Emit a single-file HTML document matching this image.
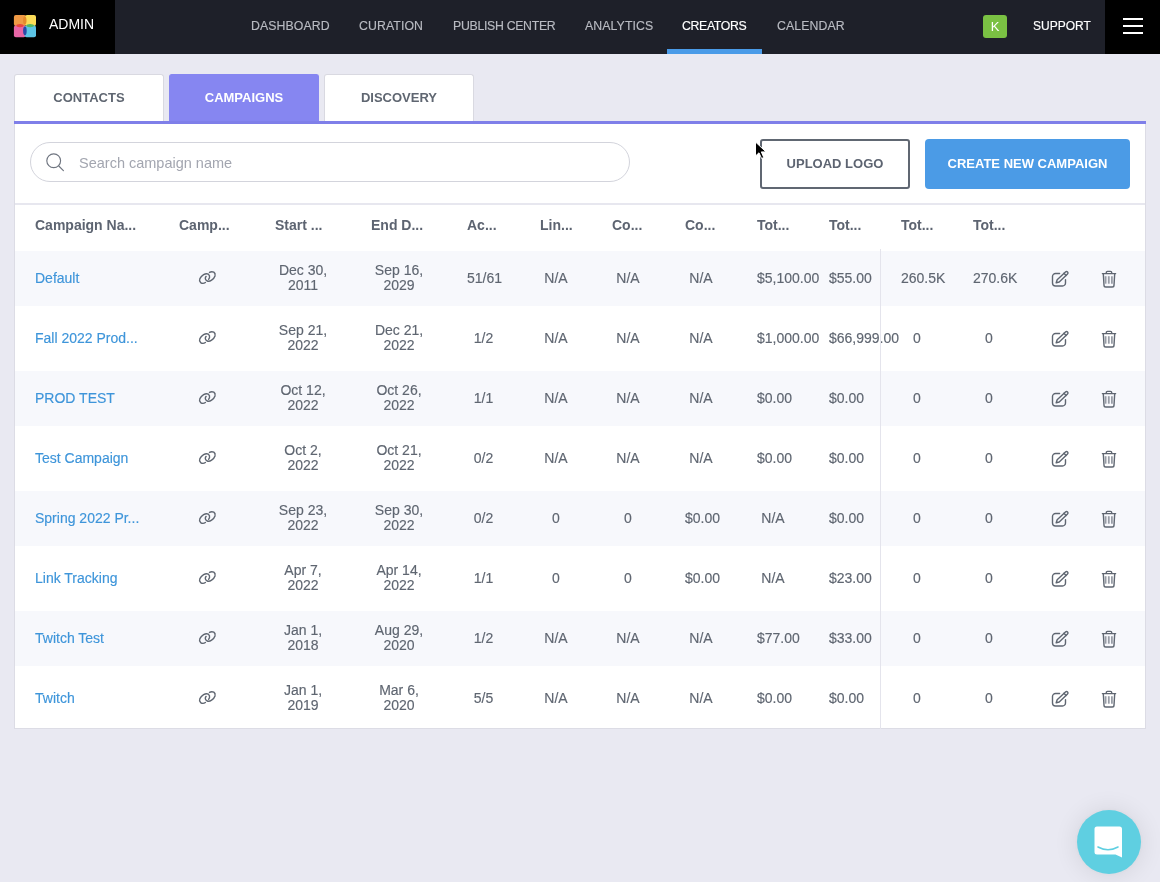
<!DOCTYPE html>
<html><head><meta charset="utf-8">
<style>
*{box-sizing:border-box;margin:0;padding:0}
html,body{width:1160px;height:882px;overflow:hidden}
html{will-change:transform}
.cv,.cd,.name,.nav{-webkit-text-stroke:0.15px currentColor}
body{-webkit-font-smoothing:antialiased;background:#e9e9f2;font-family:"Liberation Sans",sans-serif;position:relative;color:#5f6671}
.abs{position:absolute}
#hdr{position:absolute;left:0;top:0;width:1160px;height:54px;background:#1e2029}
#admin{position:absolute;left:0;top:0;width:115px;height:54px;background:#000}
.nav{position:absolute;top:19px;font-size:12.3px;line-height:14px;color:#b9bbc2;letter-spacing:0.1px;white-space:nowrap}
.tab{position:absolute;top:74px;width:150px;height:47px;background:#fff;border:1px solid #d9d9e1;border-bottom:none;border-radius:3px 3px 0 0;font-weight:bold;font-size:13px;color:#5f6671;text-align:center;line-height:46px}
#panel{position:absolute;left:14px;top:124px;width:1132px;height:605px;background:#fff;border:1px solid #dcdce5;border-top:none}
.th{position:absolute;top:217px;font-weight:bold;font-size:14px;line-height:16px;color:#5d6471;white-space:nowrap}
.band{position:absolute;left:15px;width:1130px;height:55px;background:#f7f8fc}
.name{position:absolute;left:35px;font-size:14px;line-height:20px;color:#3e95da;white-space:nowrap}
.cv{position:absolute;font-size:14px;line-height:20px;text-align:center;white-space:nowrap;color:#5f6671}
.cd{position:absolute;font-size:14px;line-height:15px;text-align:center;white-space:nowrap;color:#5f6671}
.ic{position:absolute}
</style></head><body>
<div id="hdr"></div>
<div id="admin"></div>
<svg class="abs" style="left:13px;top:15px" width="24" height="23" viewBox="0 0 24 23">
 <rect x="0.9" y="0" width="12.2" height="11" rx="2" fill="#f09a45"/>
 <rect x="12" y="0" width="11" height="11" rx="2" fill="#fbdc58"/>
 <rect x="0.9" y="10.6" width="11.8" height="11.6" rx="2" fill="#e866a6"/>
 <rect x="11.6" y="10.6" width="11.4" height="11.6" rx="2" fill="#5cc4e6"/>
 <ellipse cx="7" cy="10.6" rx="3.7" ry="1.7" fill="#e9463e"/>
 <ellipse cx="17.2" cy="10.6" rx="3.8" ry="1.7" fill="#53b864"/>
 <ellipse cx="11.9" cy="15.8" rx="1.8" ry="4.4" fill="#2b4aa8"/>
 <ellipse cx="11.8" cy="5.4" rx="1.7" ry="4" fill="#e58a2c"/>
</svg>
<div class="abs" style="left:49px;top:16px;font-size:14px;line-height:16px;color:#fff">ADMIN</div>
<div class="nav" style="left:251px">DASHBOARD</div>
<div class="nav" style="left:359px">CURATION</div>
<div class="nav" style="left:453px;letter-spacing:-0.3px">PUBLISH CENTER</div>
<div class="nav" style="left:585px">ANALYTICS</div>
<div class="nav" style="left:682px;color:#fff;letter-spacing:-0.35px">CREATORS</div>
<div class="nav" style="left:777px">CALENDAR</div>
<div class="abs" style="left:667px;top:49px;width:95px;height:5px;background:#4a9be8"></div>
<div class="abs" style="left:983px;top:15px;width:24px;height:23px;background:#7ac143;border-radius:3px;color:#fff;font-size:13px;line-height:23px;text-align:center">K</div>
<div class="nav" style="left:1033px;color:#fff;font-size:12px;letter-spacing:0">SUPPORT</div>
<div class="abs" style="left:1105px;top:0;width:55px;height:54px;background:#000"></div>
<div class="abs" style="left:1123px;top:18px;width:20px;height:2px;background:#fff"></div>
<div class="abs" style="left:1123px;top:25px;width:20px;height:2px;background:#fff"></div>
<div class="abs" style="left:1123px;top:32px;width:20px;height:2px;background:#fff"></div>

<div class="tab" style="left:14px">CONTACTS</div>
<div class="tab" style="left:169px;background:#8686f1;border-color:#8686f1;color:#fff">CAMPAIGNS</div>
<div class="tab" style="left:324px">DISCOVERY</div>
<div id="panel"></div>
<div class="abs" style="left:14px;top:121px;width:1132px;height:3px;background:#7f7fe9"></div>

<div class="abs" style="left:30px;top:142px;width:600px;height:40px;border:1px solid #d3d4dc;border-radius:20px"></div>
<svg class="abs" style="left:45px;top:153px" width="20" height="20" viewBox="0 0 20 20"><g fill="none" stroke="#6f7580" stroke-width="1.15" stroke-linecap="round"><circle cx="8.7" cy="7.7" r="6.9"/><path d="M13.8 13 L18.4 17.6"/></g></svg>
<div class="abs" style="left:79px;top:154px;font-size:14.5px;line-height:18px;color:#a3a6b0;white-space:nowrap">Search campaign name</div>

<div class="abs" style="left:760px;top:139px;width:150px;height:50px;border:2px solid #606772;border-radius:3px;font-weight:bold;font-size:13px;line-height:46px;text-align:center;color:#5d6471">UPLOAD LOGO</div>
<div class="abs" style="left:925px;top:139px;width:205px;height:50px;background:#4b9be6;border-radius:4px;font-weight:bold;font-size:13px;line-height:50px;text-align:center;color:#fff">CREATE NEW CAMPAIGN</div>
<svg class="abs" style="left:754px;top:141px" width="14" height="20" viewBox="0 0 14 20"><path d="M1.5 1 L1.5 15 L5 11.8 L7.6 17.5 L9.8 16.5 L7.3 10.9 L12 10.9 Z" fill="#000" stroke="#fff" stroke-width="1"/></svg>

<div class="abs" style="left:15px;top:203px;width:1130px;height:2px;background:#e7e7ef"></div>
<div class="th" style="left:35px">Campaign Na...</div>
<div class="th" style="left:179px">Camp...</div>
<div class="th" style="left:275px">Start ...</div>
<div class="th" style="left:371px">End D...</div>
<div class="th" style="left:467px">Ac...</div>
<div class="th" style="left:540px">Lin...</div>
<div class="th" style="left:612px">Co...</div>
<div class="th" style="left:685px">Co...</div>
<div class="th" style="left:757px">Tot...</div>
<div class="th" style="left:829px">Tot...</div>
<div class="th" style="left:901px">Tot...</div>
<div class="th" style="left:973px">Tot...</div>
<div class="band" style="top:251px"></div>
<div class="name" style="top:268px">Default</div>
<svg class="ic" style="left:197px;top:268px" width="21" height="20" viewBox="0 0 21 20"><g fill="none" stroke="#5f6671" stroke-width="1.4" stroke-linecap="round"><path d="M8.4 14.5 Q6 16.2 3.6 14.6 Q1.9 13 2.9 10.6 Q4 8.2 6.6 6.6 Q9.4 5 11.4 6.2 Q13 7.4 12.5 9.6 Q12.2 10.6 11.6 11.3"/><path d="M12.5 4.4 Q14.6 3.2 16.8 4.2 Q18.6 5.4 18 8 Q17.2 10.4 14.6 12.2 Q12.2 13.8 10.2 13.0 Q8.2 12.2 8.3 10.2 Q8.5 8.9 9.1 8.4"/></g></svg>
<div class="cd" style="left:275px;width:56px;top:262.5px">Dec 30,<br>2011</div>
<div class="cd" style="left:371px;width:56px;top:262.5px">Sep 16,<br>2029</div>
<div class="cv" style="left:467px;width:33px;top:268px">51/61</div>
<div class="cv" style="left:540px;width:32px;top:268px">N/A</div>
<div class="cv" style="left:612px;width:32px;top:268px">N/A</div>
<div class="cv" style="left:685px;width:32px;top:268px">N/A</div>
<div class="cv" style="left:757px;width:32px;top:268px">$5,100.00</div>
<div class="cv" style="left:829px;width:33px;top:268px">$55.00</div>
<div class="cv" style="left:901px;width:32px;top:268px">260.5K</div>
<div class="cv" style="left:973px;width:32px;top:268px">270.6K</div>
<svg class="ic" style="left:1050px;top:269px" width="20" height="20" viewBox="0 0 20 20"><g fill="none" stroke="#5f6671" stroke-width="1.4" stroke-linejoin="round" stroke-linecap="round"><path d="M9.6 4.5 H5.5 A3 3 0 0 0 2.5 7.5 V14 A3 3 0 0 0 5.5 17 H12.5 A3 3 0 0 0 15.5 14 V10.8"/><path d="M6.2 13.8 L7.17 10.81 L15.47 2.91 A1.5 1.5 0 0 1 17.53 5.09 L9.23 12.99 Z"/><path d="M13.97 4.31 L16.03 6.49"/></g></svg>
<svg class="ic" style="left:1099px;top:269px" width="20" height="20" viewBox="0 0 20 20"><g fill="none" stroke="#5f6671" stroke-width="1.4" stroke-linecap="round" stroke-linejoin="round"><path d="M3.4 4.6 H16.6"/><path d="M7.3 4.4 V3.6 A1.2 1.2 0 0 1 8.5 2.4 H11.5 A1.2 1.2 0 0 1 12.7 3.6 V4.4"/><path d="M4.3 4.8 L5 16.2 A1.8 1.8 0 0 0 6.8 18 H13.2 A1.8 1.8 0 0 0 15 16.2 L15.7 4.8"/></g><g stroke="#989da6" stroke-width="1.8"><path d="M6.6 7.2 V14.7"/><path d="M9.8 7.2 V14.7"/><path d="M12.9 7.2 V14.7"/></g></svg>
<div class="name" style="top:328px">Fall 2022 Prod...</div>
<svg class="ic" style="left:197px;top:328px" width="21" height="20" viewBox="0 0 21 20"><g fill="none" stroke="#5f6671" stroke-width="1.4" stroke-linecap="round"><path d="M8.4 14.5 Q6 16.2 3.6 14.6 Q1.9 13 2.9 10.6 Q4 8.2 6.6 6.6 Q9.4 5 11.4 6.2 Q13 7.4 12.5 9.6 Q12.2 10.6 11.6 11.3"/><path d="M12.5 4.4 Q14.6 3.2 16.8 4.2 Q18.6 5.4 18 8 Q17.2 10.4 14.6 12.2 Q12.2 13.8 10.2 13.0 Q8.2 12.2 8.3 10.2 Q8.5 8.9 9.1 8.4"/></g></svg>
<div class="cd" style="left:275px;width:56px;top:322.5px">Sep 21,<br>2022</div>
<div class="cd" style="left:371px;width:56px;top:322.5px">Dec 21,<br>2022</div>
<div class="cv" style="left:467px;width:33px;top:328px">1/2</div>
<div class="cv" style="left:540px;width:32px;top:328px">N/A</div>
<div class="cv" style="left:612px;width:32px;top:328px">N/A</div>
<div class="cv" style="left:685px;width:32px;top:328px">N/A</div>
<div class="cv" style="left:757px;width:32px;top:328px">$1,000.00</div>
<div class="cv" style="left:829px;width:33px;top:328px">$66,999.00</div>
<div class="cv" style="left:901px;width:32px;top:328px">0</div>
<div class="cv" style="left:973px;width:32px;top:328px">0</div>
<svg class="ic" style="left:1050px;top:329px" width="20" height="20" viewBox="0 0 20 20"><g fill="none" stroke="#5f6671" stroke-width="1.4" stroke-linejoin="round" stroke-linecap="round"><path d="M9.6 4.5 H5.5 A3 3 0 0 0 2.5 7.5 V14 A3 3 0 0 0 5.5 17 H12.5 A3 3 0 0 0 15.5 14 V10.8"/><path d="M6.2 13.8 L7.17 10.81 L15.47 2.91 A1.5 1.5 0 0 1 17.53 5.09 L9.23 12.99 Z"/><path d="M13.97 4.31 L16.03 6.49"/></g></svg>
<svg class="ic" style="left:1099px;top:329px" width="20" height="20" viewBox="0 0 20 20"><g fill="none" stroke="#5f6671" stroke-width="1.4" stroke-linecap="round" stroke-linejoin="round"><path d="M3.4 4.6 H16.6"/><path d="M7.3 4.4 V3.6 A1.2 1.2 0 0 1 8.5 2.4 H11.5 A1.2 1.2 0 0 1 12.7 3.6 V4.4"/><path d="M4.3 4.8 L5 16.2 A1.8 1.8 0 0 0 6.8 18 H13.2 A1.8 1.8 0 0 0 15 16.2 L15.7 4.8"/></g><g stroke="#989da6" stroke-width="1.8"><path d="M6.6 7.2 V14.7"/><path d="M9.8 7.2 V14.7"/><path d="M12.9 7.2 V14.7"/></g></svg>
<div class="band" style="top:371px"></div>
<div class="name" style="top:388px">PROD TEST</div>
<svg class="ic" style="left:197px;top:388px" width="21" height="20" viewBox="0 0 21 20"><g fill="none" stroke="#5f6671" stroke-width="1.4" stroke-linecap="round"><path d="M8.4 14.5 Q6 16.2 3.6 14.6 Q1.9 13 2.9 10.6 Q4 8.2 6.6 6.6 Q9.4 5 11.4 6.2 Q13 7.4 12.5 9.6 Q12.2 10.6 11.6 11.3"/><path d="M12.5 4.4 Q14.6 3.2 16.8 4.2 Q18.6 5.4 18 8 Q17.2 10.4 14.6 12.2 Q12.2 13.8 10.2 13.0 Q8.2 12.2 8.3 10.2 Q8.5 8.9 9.1 8.4"/></g></svg>
<div class="cd" style="left:275px;width:56px;top:382.5px">Oct 12,<br>2022</div>
<div class="cd" style="left:371px;width:56px;top:382.5px">Oct 26,<br>2022</div>
<div class="cv" style="left:467px;width:33px;top:388px">1/1</div>
<div class="cv" style="left:540px;width:32px;top:388px">N/A</div>
<div class="cv" style="left:612px;width:32px;top:388px">N/A</div>
<div class="cv" style="left:685px;width:32px;top:388px">N/A</div>
<div class="cv" style="left:757px;width:32px;top:388px">$0.00</div>
<div class="cv" style="left:829px;width:33px;top:388px">$0.00</div>
<div class="cv" style="left:901px;width:32px;top:388px">0</div>
<div class="cv" style="left:973px;width:32px;top:388px">0</div>
<svg class="ic" style="left:1050px;top:389px" width="20" height="20" viewBox="0 0 20 20"><g fill="none" stroke="#5f6671" stroke-width="1.4" stroke-linejoin="round" stroke-linecap="round"><path d="M9.6 4.5 H5.5 A3 3 0 0 0 2.5 7.5 V14 A3 3 0 0 0 5.5 17 H12.5 A3 3 0 0 0 15.5 14 V10.8"/><path d="M6.2 13.8 L7.17 10.81 L15.47 2.91 A1.5 1.5 0 0 1 17.53 5.09 L9.23 12.99 Z"/><path d="M13.97 4.31 L16.03 6.49"/></g></svg>
<svg class="ic" style="left:1099px;top:389px" width="20" height="20" viewBox="0 0 20 20"><g fill="none" stroke="#5f6671" stroke-width="1.4" stroke-linecap="round" stroke-linejoin="round"><path d="M3.4 4.6 H16.6"/><path d="M7.3 4.4 V3.6 A1.2 1.2 0 0 1 8.5 2.4 H11.5 A1.2 1.2 0 0 1 12.7 3.6 V4.4"/><path d="M4.3 4.8 L5 16.2 A1.8 1.8 0 0 0 6.8 18 H13.2 A1.8 1.8 0 0 0 15 16.2 L15.7 4.8"/></g><g stroke="#989da6" stroke-width="1.8"><path d="M6.6 7.2 V14.7"/><path d="M9.8 7.2 V14.7"/><path d="M12.9 7.2 V14.7"/></g></svg>
<div class="name" style="top:448px">Test Campaign</div>
<svg class="ic" style="left:197px;top:448px" width="21" height="20" viewBox="0 0 21 20"><g fill="none" stroke="#5f6671" stroke-width="1.4" stroke-linecap="round"><path d="M8.4 14.5 Q6 16.2 3.6 14.6 Q1.9 13 2.9 10.6 Q4 8.2 6.6 6.6 Q9.4 5 11.4 6.2 Q13 7.4 12.5 9.6 Q12.2 10.6 11.6 11.3"/><path d="M12.5 4.4 Q14.6 3.2 16.8 4.2 Q18.6 5.4 18 8 Q17.2 10.4 14.6 12.2 Q12.2 13.8 10.2 13.0 Q8.2 12.2 8.3 10.2 Q8.5 8.9 9.1 8.4"/></g></svg>
<div class="cd" style="left:275px;width:56px;top:442.5px">Oct 2,<br>2022</div>
<div class="cd" style="left:371px;width:56px;top:442.5px">Oct 21,<br>2022</div>
<div class="cv" style="left:467px;width:33px;top:448px">0/2</div>
<div class="cv" style="left:540px;width:32px;top:448px">N/A</div>
<div class="cv" style="left:612px;width:32px;top:448px">N/A</div>
<div class="cv" style="left:685px;width:32px;top:448px">N/A</div>
<div class="cv" style="left:757px;width:32px;top:448px">$0.00</div>
<div class="cv" style="left:829px;width:33px;top:448px">$0.00</div>
<div class="cv" style="left:901px;width:32px;top:448px">0</div>
<div class="cv" style="left:973px;width:32px;top:448px">0</div>
<svg class="ic" style="left:1050px;top:449px" width="20" height="20" viewBox="0 0 20 20"><g fill="none" stroke="#5f6671" stroke-width="1.4" stroke-linejoin="round" stroke-linecap="round"><path d="M9.6 4.5 H5.5 A3 3 0 0 0 2.5 7.5 V14 A3 3 0 0 0 5.5 17 H12.5 A3 3 0 0 0 15.5 14 V10.8"/><path d="M6.2 13.8 L7.17 10.81 L15.47 2.91 A1.5 1.5 0 0 1 17.53 5.09 L9.23 12.99 Z"/><path d="M13.97 4.31 L16.03 6.49"/></g></svg>
<svg class="ic" style="left:1099px;top:449px" width="20" height="20" viewBox="0 0 20 20"><g fill="none" stroke="#5f6671" stroke-width="1.4" stroke-linecap="round" stroke-linejoin="round"><path d="M3.4 4.6 H16.6"/><path d="M7.3 4.4 V3.6 A1.2 1.2 0 0 1 8.5 2.4 H11.5 A1.2 1.2 0 0 1 12.7 3.6 V4.4"/><path d="M4.3 4.8 L5 16.2 A1.8 1.8 0 0 0 6.8 18 H13.2 A1.8 1.8 0 0 0 15 16.2 L15.7 4.8"/></g><g stroke="#989da6" stroke-width="1.8"><path d="M6.6 7.2 V14.7"/><path d="M9.8 7.2 V14.7"/><path d="M12.9 7.2 V14.7"/></g></svg>
<div class="band" style="top:491px"></div>
<div class="name" style="top:508px">Spring 2022 Pr...</div>
<svg class="ic" style="left:197px;top:508px" width="21" height="20" viewBox="0 0 21 20"><g fill="none" stroke="#5f6671" stroke-width="1.4" stroke-linecap="round"><path d="M8.4 14.5 Q6 16.2 3.6 14.6 Q1.9 13 2.9 10.6 Q4 8.2 6.6 6.6 Q9.4 5 11.4 6.2 Q13 7.4 12.5 9.6 Q12.2 10.6 11.6 11.3"/><path d="M12.5 4.4 Q14.6 3.2 16.8 4.2 Q18.6 5.4 18 8 Q17.2 10.4 14.6 12.2 Q12.2 13.8 10.2 13.0 Q8.2 12.2 8.3 10.2 Q8.5 8.9 9.1 8.4"/></g></svg>
<div class="cd" style="left:275px;width:56px;top:502.5px">Sep 23,<br>2022</div>
<div class="cd" style="left:371px;width:56px;top:502.5px">Sep 30,<br>2022</div>
<div class="cv" style="left:467px;width:33px;top:508px">0/2</div>
<div class="cv" style="left:540px;width:32px;top:508px">0</div>
<div class="cv" style="left:612px;width:32px;top:508px">0</div>
<div class="cv" style="left:685px;width:32px;top:508px">$0.00</div>
<div class="cv" style="left:757px;width:32px;top:508px">N/A</div>
<div class="cv" style="left:829px;width:33px;top:508px">$0.00</div>
<div class="cv" style="left:901px;width:32px;top:508px">0</div>
<div class="cv" style="left:973px;width:32px;top:508px">0</div>
<svg class="ic" style="left:1050px;top:509px" width="20" height="20" viewBox="0 0 20 20"><g fill="none" stroke="#5f6671" stroke-width="1.4" stroke-linejoin="round" stroke-linecap="round"><path d="M9.6 4.5 H5.5 A3 3 0 0 0 2.5 7.5 V14 A3 3 0 0 0 5.5 17 H12.5 A3 3 0 0 0 15.5 14 V10.8"/><path d="M6.2 13.8 L7.17 10.81 L15.47 2.91 A1.5 1.5 0 0 1 17.53 5.09 L9.23 12.99 Z"/><path d="M13.97 4.31 L16.03 6.49"/></g></svg>
<svg class="ic" style="left:1099px;top:509px" width="20" height="20" viewBox="0 0 20 20"><g fill="none" stroke="#5f6671" stroke-width="1.4" stroke-linecap="round" stroke-linejoin="round"><path d="M3.4 4.6 H16.6"/><path d="M7.3 4.4 V3.6 A1.2 1.2 0 0 1 8.5 2.4 H11.5 A1.2 1.2 0 0 1 12.7 3.6 V4.4"/><path d="M4.3 4.8 L5 16.2 A1.8 1.8 0 0 0 6.8 18 H13.2 A1.8 1.8 0 0 0 15 16.2 L15.7 4.8"/></g><g stroke="#989da6" stroke-width="1.8"><path d="M6.6 7.2 V14.7"/><path d="M9.8 7.2 V14.7"/><path d="M12.9 7.2 V14.7"/></g></svg>
<div class="name" style="top:568px">Link Tracking</div>
<svg class="ic" style="left:197px;top:568px" width="21" height="20" viewBox="0 0 21 20"><g fill="none" stroke="#5f6671" stroke-width="1.4" stroke-linecap="round"><path d="M8.4 14.5 Q6 16.2 3.6 14.6 Q1.9 13 2.9 10.6 Q4 8.2 6.6 6.6 Q9.4 5 11.4 6.2 Q13 7.4 12.5 9.6 Q12.2 10.6 11.6 11.3"/><path d="M12.5 4.4 Q14.6 3.2 16.8 4.2 Q18.6 5.4 18 8 Q17.2 10.4 14.6 12.2 Q12.2 13.8 10.2 13.0 Q8.2 12.2 8.3 10.2 Q8.5 8.9 9.1 8.4"/></g></svg>
<div class="cd" style="left:275px;width:56px;top:562.5px">Apr 7,<br>2022</div>
<div class="cd" style="left:371px;width:56px;top:562.5px">Apr 14,<br>2022</div>
<div class="cv" style="left:467px;width:33px;top:568px">1/1</div>
<div class="cv" style="left:540px;width:32px;top:568px">0</div>
<div class="cv" style="left:612px;width:32px;top:568px">0</div>
<div class="cv" style="left:685px;width:32px;top:568px">$0.00</div>
<div class="cv" style="left:757px;width:32px;top:568px">N/A</div>
<div class="cv" style="left:829px;width:33px;top:568px">$23.00</div>
<div class="cv" style="left:901px;width:32px;top:568px">0</div>
<div class="cv" style="left:973px;width:32px;top:568px">0</div>
<svg class="ic" style="left:1050px;top:569px" width="20" height="20" viewBox="0 0 20 20"><g fill="none" stroke="#5f6671" stroke-width="1.4" stroke-linejoin="round" stroke-linecap="round"><path d="M9.6 4.5 H5.5 A3 3 0 0 0 2.5 7.5 V14 A3 3 0 0 0 5.5 17 H12.5 A3 3 0 0 0 15.5 14 V10.8"/><path d="M6.2 13.8 L7.17 10.81 L15.47 2.91 A1.5 1.5 0 0 1 17.53 5.09 L9.23 12.99 Z"/><path d="M13.97 4.31 L16.03 6.49"/></g></svg>
<svg class="ic" style="left:1099px;top:569px" width="20" height="20" viewBox="0 0 20 20"><g fill="none" stroke="#5f6671" stroke-width="1.4" stroke-linecap="round" stroke-linejoin="round"><path d="M3.4 4.6 H16.6"/><path d="M7.3 4.4 V3.6 A1.2 1.2 0 0 1 8.5 2.4 H11.5 A1.2 1.2 0 0 1 12.7 3.6 V4.4"/><path d="M4.3 4.8 L5 16.2 A1.8 1.8 0 0 0 6.8 18 H13.2 A1.8 1.8 0 0 0 15 16.2 L15.7 4.8"/></g><g stroke="#989da6" stroke-width="1.8"><path d="M6.6 7.2 V14.7"/><path d="M9.8 7.2 V14.7"/><path d="M12.9 7.2 V14.7"/></g></svg>
<div class="band" style="top:611px"></div>
<div class="name" style="top:628px">Twitch Test</div>
<svg class="ic" style="left:197px;top:628px" width="21" height="20" viewBox="0 0 21 20"><g fill="none" stroke="#5f6671" stroke-width="1.4" stroke-linecap="round"><path d="M8.4 14.5 Q6 16.2 3.6 14.6 Q1.9 13 2.9 10.6 Q4 8.2 6.6 6.6 Q9.4 5 11.4 6.2 Q13 7.4 12.5 9.6 Q12.2 10.6 11.6 11.3"/><path d="M12.5 4.4 Q14.6 3.2 16.8 4.2 Q18.6 5.4 18 8 Q17.2 10.4 14.6 12.2 Q12.2 13.8 10.2 13.0 Q8.2 12.2 8.3 10.2 Q8.5 8.9 9.1 8.4"/></g></svg>
<div class="cd" style="left:275px;width:56px;top:622.5px">Jan 1,<br>2018</div>
<div class="cd" style="left:371px;width:56px;top:622.5px">Aug 29,<br>2020</div>
<div class="cv" style="left:467px;width:33px;top:628px">1/2</div>
<div class="cv" style="left:540px;width:32px;top:628px">N/A</div>
<div class="cv" style="left:612px;width:32px;top:628px">N/A</div>
<div class="cv" style="left:685px;width:32px;top:628px">N/A</div>
<div class="cv" style="left:757px;width:32px;top:628px">$77.00</div>
<div class="cv" style="left:829px;width:33px;top:628px">$33.00</div>
<div class="cv" style="left:901px;width:32px;top:628px">0</div>
<div class="cv" style="left:973px;width:32px;top:628px">0</div>
<svg class="ic" style="left:1050px;top:629px" width="20" height="20" viewBox="0 0 20 20"><g fill="none" stroke="#5f6671" stroke-width="1.4" stroke-linejoin="round" stroke-linecap="round"><path d="M9.6 4.5 H5.5 A3 3 0 0 0 2.5 7.5 V14 A3 3 0 0 0 5.5 17 H12.5 A3 3 0 0 0 15.5 14 V10.8"/><path d="M6.2 13.8 L7.17 10.81 L15.47 2.91 A1.5 1.5 0 0 1 17.53 5.09 L9.23 12.99 Z"/><path d="M13.97 4.31 L16.03 6.49"/></g></svg>
<svg class="ic" style="left:1099px;top:629px" width="20" height="20" viewBox="0 0 20 20"><g fill="none" stroke="#5f6671" stroke-width="1.4" stroke-linecap="round" stroke-linejoin="round"><path d="M3.4 4.6 H16.6"/><path d="M7.3 4.4 V3.6 A1.2 1.2 0 0 1 8.5 2.4 H11.5 A1.2 1.2 0 0 1 12.7 3.6 V4.4"/><path d="M4.3 4.8 L5 16.2 A1.8 1.8 0 0 0 6.8 18 H13.2 A1.8 1.8 0 0 0 15 16.2 L15.7 4.8"/></g><g stroke="#989da6" stroke-width="1.8"><path d="M6.6 7.2 V14.7"/><path d="M9.8 7.2 V14.7"/><path d="M12.9 7.2 V14.7"/></g></svg>
<div class="name" style="top:688px">Twitch</div>
<svg class="ic" style="left:197px;top:688px" width="21" height="20" viewBox="0 0 21 20"><g fill="none" stroke="#5f6671" stroke-width="1.4" stroke-linecap="round"><path d="M8.4 14.5 Q6 16.2 3.6 14.6 Q1.9 13 2.9 10.6 Q4 8.2 6.6 6.6 Q9.4 5 11.4 6.2 Q13 7.4 12.5 9.6 Q12.2 10.6 11.6 11.3"/><path d="M12.5 4.4 Q14.6 3.2 16.8 4.2 Q18.6 5.4 18 8 Q17.2 10.4 14.6 12.2 Q12.2 13.8 10.2 13.0 Q8.2 12.2 8.3 10.2 Q8.5 8.9 9.1 8.4"/></g></svg>
<div class="cd" style="left:275px;width:56px;top:682.5px">Jan 1,<br>2019</div>
<div class="cd" style="left:371px;width:56px;top:682.5px">Mar 6,<br>2020</div>
<div class="cv" style="left:467px;width:33px;top:688px">5/5</div>
<div class="cv" style="left:540px;width:32px;top:688px">N/A</div>
<div class="cv" style="left:612px;width:32px;top:688px">N/A</div>
<div class="cv" style="left:685px;width:32px;top:688px">N/A</div>
<div class="cv" style="left:757px;width:32px;top:688px">$0.00</div>
<div class="cv" style="left:829px;width:33px;top:688px">$0.00</div>
<div class="cv" style="left:901px;width:32px;top:688px">0</div>
<div class="cv" style="left:973px;width:32px;top:688px">0</div>
<svg class="ic" style="left:1050px;top:689px" width="20" height="20" viewBox="0 0 20 20"><g fill="none" stroke="#5f6671" stroke-width="1.4" stroke-linejoin="round" stroke-linecap="round"><path d="M9.6 4.5 H5.5 A3 3 0 0 0 2.5 7.5 V14 A3 3 0 0 0 5.5 17 H12.5 A3 3 0 0 0 15.5 14 V10.8"/><path d="M6.2 13.8 L7.17 10.81 L15.47 2.91 A1.5 1.5 0 0 1 17.53 5.09 L9.23 12.99 Z"/><path d="M13.97 4.31 L16.03 6.49"/></g></svg>
<svg class="ic" style="left:1099px;top:689px" width="20" height="20" viewBox="0 0 20 20"><g fill="none" stroke="#5f6671" stroke-width="1.4" stroke-linecap="round" stroke-linejoin="round"><path d="M3.4 4.6 H16.6"/><path d="M7.3 4.4 V3.6 A1.2 1.2 0 0 1 8.5 2.4 H11.5 A1.2 1.2 0 0 1 12.7 3.6 V4.4"/><path d="M4.3 4.8 L5 16.2 A1.8 1.8 0 0 0 6.8 18 H13.2 A1.8 1.8 0 0 0 15 16.2 L15.7 4.8"/></g><g stroke="#989da6" stroke-width="1.8"><path d="M6.6 7.2 V14.7"/><path d="M9.8 7.2 V14.7"/><path d="M12.9 7.2 V14.7"/></g></svg>
<div class="abs" style="left:880px;top:249px;width:1px;height:480px;background:#e4e4ec"></div>

<div class="abs" style="left:1077px;top:810px;width:64px;height:64px;border-radius:50%;background:#5fcfe1;box-shadow:0 0 4px rgba(0,0,0,0.05),0 1px 22px 4px rgba(0,0,0,0.07)"></div>
<svg class="abs" style="left:1094px;top:826px" width="29" height="32" viewBox="0 0 29 32"><path d="M3 0.5 H25.5 A2.5 2.5 0 0 1 28 3 V31.5 L21.5 28.5 H3 A2.5 2.5 0 0 1 0.5 26 V3 A2.5 2.5 0 0 1 3 0.5 Z" fill="#fff"/><path d="M4 21 Q14 26.5 24 21" fill="none" stroke="#5fcfe1" stroke-width="1.6" stroke-linecap="round"/></svg>
</body></html>
